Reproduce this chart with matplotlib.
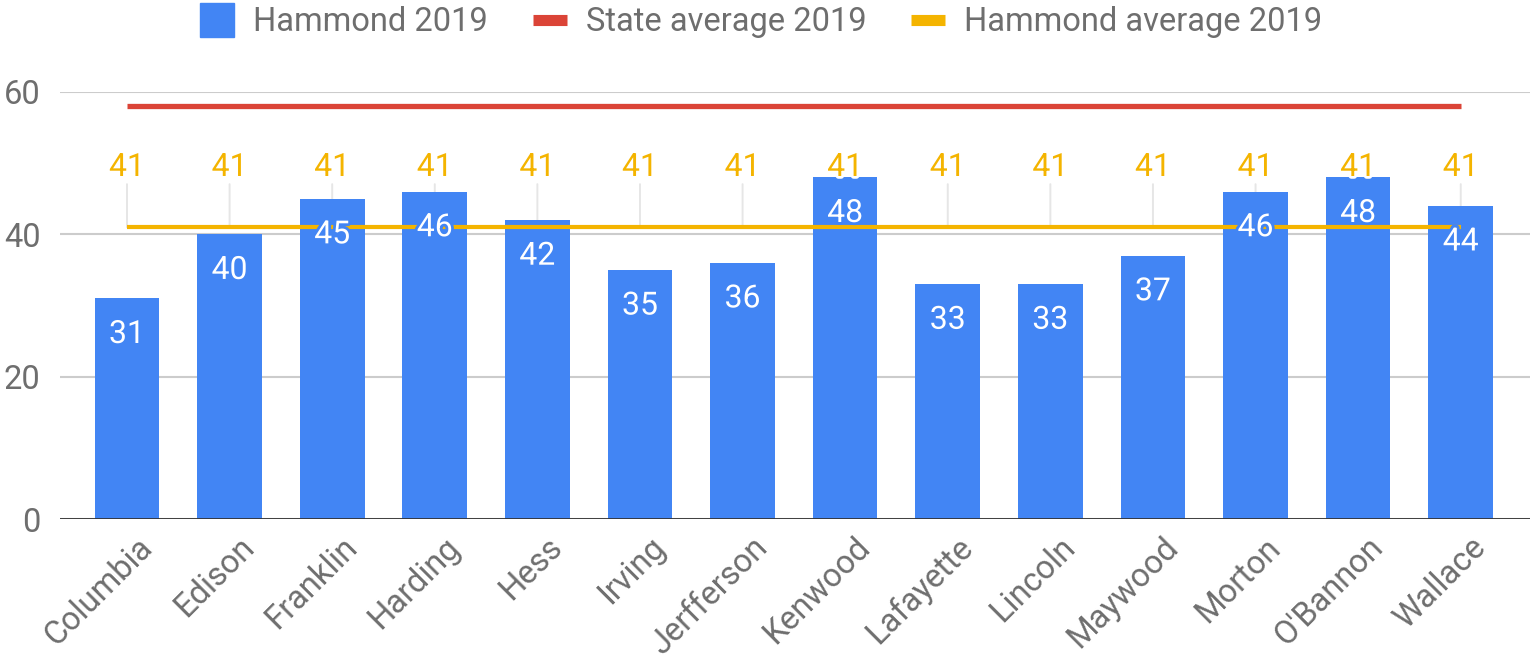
import matplotlib
matplotlib.use("Agg")
import matplotlib.pyplot as plt
import matplotlib.patheffects as pe
from matplotlib.lines import Line2D
from matplotlib.transforms import ScaledTranslation
import numpy as np

plt.rcParams['font.family'] = ['Roboto', 'DejaVu Sans']

schools = ["Columbia", "Edison", "Franklin", "Harding", "Hess", "Irving", "Jerfferson",
           "Kenwood", "Lafayette", "Lincoln", "Maywood", "Morton", "O'Bannon", "Wallace"]
hammond_2019 = [31, 40, 45, 46, 42, 35, 36, 48, 33, 33, 37, 46, 48, 44]
state_avg_2019 = [58] * len(schools)
hammond_avg_2019 = [41] * len(schools)
yticks = [0, 20, 40, 60]

BLUE = "#4285F4"
RED = "#DB4437"
YELLOW = "#F4B400"
GREY_TXT = "#6e6e6e"

fig = plt.figure(figsize=(15.32, 6.62), dpi=100)
ax = fig.add_axes([60 / 1532, (662 - 519) / 662, 1470 / 1532, 427 / 662])

x = np.arange(len(schools))
ax.bar(x, hammond_2019, width=0.63, color=BLUE, zorder=2)
ax.plot(x, state_avg_2019, color=RED, lw=3.8, solid_capstyle="butt", zorder=3)
ax.plot(x, hammond_avg_2019, color=YELLOW, lw=3.0, solid_capstyle="butt", zorder=3)

# bar labels, with blue halo cutting the yellow line
for xi, v in zip(x, hammond_2019):
    ax.annotate(str(v), (xi, v), xytext=(0, -26), textcoords="offset points",
                ha="center", va="center", color="white", fontsize=23, zorder=5,
                path_effects=[pe.withStroke(linewidth=4, foreground=BLUE)])

# hammond average labels, leader lines sit behind the bars
for xi, v in zip(x, hammond_avg_2019):
    ax.annotate("", (xi, v), xytext=(0, 31), textcoords="offset points",
                arrowprops=dict(arrowstyle="-", color="#e6e6e6", lw=1.4,
                                shrinkA=0, shrinkB=0), zorder=1)
    ax.annotate(str(v), (xi, v), xytext=(0, 43), textcoords="offset points",
                ha="center", va="center", color=YELLOW, fontsize=23, zorder=6,
                path_effects=[pe.withStroke(linewidth=4, foreground="white")])

ax.set_xlim(-0.653, 13.675)
ax.set_ylim(0, 60)
ax.set_yticks(yticks)
ax.set_yticklabels([str(t) for t in yticks])
ax.set_xticks(x)
ax.set_xticklabels(schools, rotation=45, ha="right", va="center",
                   rotation_mode="anchor")

ax.tick_params(axis="both", length=0, labelcolor=GREY_TXT)
ax.tick_params(axis="y", labelsize=23.5, pad=14)
ax.tick_params(axis="x", pad=17, labelsize=23.5)
# shift the rotated labels so their ends sit right of the tick (after tick_params!)
offset = ScaledTranslation(20 / 100, 0, fig.dpi_scale_trans)
for lbl in ax.get_xticklabels():
    lbl.set_transform(lbl.get_transform() + offset)

for s in ax.spines.values():
    s.set_visible(False)
ax.yaxis.grid(True, color="#cccccc", lw=1.5, zorder=0)
ax.set_axisbelow(True)
ax.axhline(0, color="#333333", lw=2, zorder=4)

handles = [
    Line2D([], [], ls="none", marker="s", markersize=24, color=BLUE),
    Line2D([], [], ls="none", marker="_", markersize=24, markeredgewidth=8, color=RED),
    Line2D([], [], ls="none", marker="_", markersize=24, markeredgewidth=8, color=YELLOW),
]
fig.legend(handles, ["Hammond 2019", "State average 2019", "Hammond average 2019"],
           loc="upper center", bbox_to_anchor=(0.497, 1.035), ncol=3, frameon=False,
           fontsize=23.5, labelcolor=GREY_TXT, handlelength=1.0, handletextpad=0.6,
           columnspacing=1.4)

fig.savefig("out.png", dpi=100)
